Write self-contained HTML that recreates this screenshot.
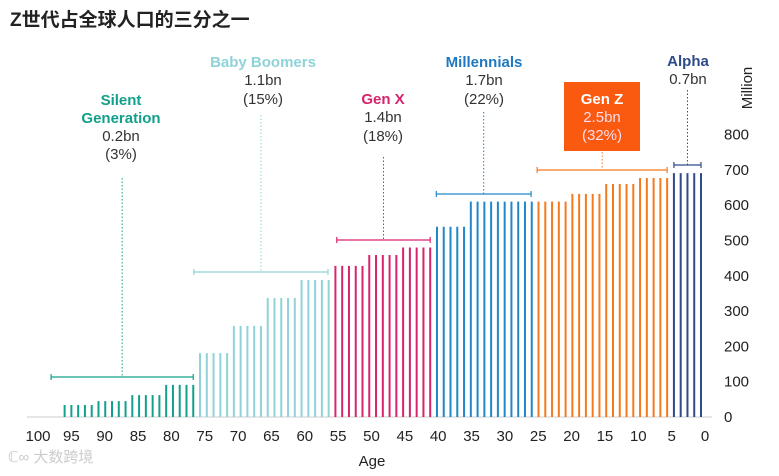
<!DOCTYPE html>
<html><head><meta charset="utf-8"><style>
html,body{margin:0;padding:0;background:#fff;}
body{width:779px;height:471px;overflow:hidden;font-family:"Liberation Sans","Noto Sans CJK SC",sans-serif;}
</style></head><body>
<svg id="chart" width="779" height="471" viewBox="0 0 779 471" xmlns="http://www.w3.org/2000/svg" font-family="Liberation Sans, Noto Sans CJK SC, sans-serif">
<text x="10" y="26" font-size="19" font-weight="bold" fill="#222">Z世代占全球人口的三分之一</text>
<line x1="27" y1="417" x2="712" y2="417" stroke="#ddd" stroke-width="1.5"/>
<g id="bars"></g>
<g id="xticks" font-size="15" fill="#222" text-anchor="middle"></g>
<g id="yticks" font-size="15" fill="#222"></g>
<text x="372" y="466" font-size="15" fill="#222" text-anchor="middle">Age</text>
<text transform="translate(752,88) rotate(-90)" font-size="15" fill="#222" text-anchor="middle">Million</text>
<g id="annots"></g>
<rect x="564" y="82" width="76" height="69" fill="#f95a10"/>
<g text-anchor="middle" font-size="15">
<text x="121" y="105" fill="#13a08a" font-weight="bold">Silent</text>
<text x="121" y="123" fill="#13a08a" font-weight="bold">Generation</text>
<text x="121" y="141" fill="#333">0.2bn</text>
<text x="121" y="159" fill="#333">(3%)</text>
<text x="263" y="67" fill="#8fd3d8" font-weight="bold">Baby Boomers</text>
<text x="263" y="85" fill="#333">1.1bn</text>
<text x="263" y="104" fill="#333">(15%)</text>
<text x="383" y="104" fill="#d6246e" font-weight="bold">Gen X</text>
<text x="383" y="122" fill="#333">1.4bn</text>
<text x="383" y="141" fill="#333">(18%)</text>
<text x="484" y="67" fill="#1f78c1" font-weight="bold">Millennials</text>
<text x="484" y="85" fill="#333">1.7bn</text>
<text x="484" y="104" fill="#333">(22%)</text>
<text x="602" y="104" fill="#fff" font-weight="bold">Gen Z</text>
<text x="602" y="122" fill="#fde">2.5bn</text>
<text x="602" y="140" fill="#fde">(32%)</text>
<text x="688" y="66" fill="#2e4a8a" font-weight="bold">Alpha</text>
<text x="688" y="84" fill="#333">0.7bn</text>
</g>
<text x="8" y="462" font-size="15" fill="#ccc">ℂ∞ 大数跨境</text>
</svg>
<script>
// one value per 5-year age group, ages 0-4 first
const groupStarts = [0,5,10,15,20,25,30,35,40,45,50,55,60,65,70,75,80,85,90];
const groupValues = [691,677,660,632,610,610,610,539,480,459,428,388,337,258,181,91,62,45,34];
const groupGens = ['alpha','genz','genz','genz','genz','mill','mill','mill','genx','genx','genx','boom','boom','boom','boom','silent','silent','silent','silent'];
const xTicks = [100,95,90,85,80,75,70,65,60,55,50,45,40,35,30,25,20,15,10,5,0];
const yTicks = [0,100,200,300,400,500,600,700,800];
const genColors = {alpha:'#2e4a8a',genz:'#f47a20',mill:'#2187c8',genx:'#d6246e',boom:'#8fd3d8',silent:'#13a08a'};
const gens = ['silent','boom','genx','mill','genz','alpha'];
const genBracketFrom = [96,74.9,53.8,39.1,24.2,4];
const genBracketTo = [75,55.1,40,25.1,5,0];
const genBracketY = [377,272,240,194,170,165];
const genLineTop = [178,115,157,112,152,90];

const NS='http://www.w3.org/2000/svg';
const xBar = a => 701 - a*6.77;
const xTick = v => 38 + (100-v)*6.67;
const y = v => 417 - v*0.353;
function mk(tag, attrs){const e=document.createElementNS(NS,tag);for(const k in attrs)e.setAttribute(k,attrs[k]);return e;}
const bars=document.getElementById('bars');
groupStarts.forEach((s,i)=>{
  for(let k=0;k<5;k++){
    const a=s+k;
    const l=mk('line',{x1:xBar(a),x2:xBar(a),y1:y(0),y2:y(groupValues[i]),stroke:genColors[groupGens[i]],'stroke-width':2});
    
    
    bars.appendChild(l);
  }
});
const xt=document.getElementById('xticks');
xTicks.forEach(v=>{
  const t=mk('text',{x:xTick(v),y:441});t.textContent=v;
  
  
  xt.appendChild(t);
});
const yt=document.getElementById('yticks');
yTicks.forEach(v=>{
  const t=mk('text',{x:724,y:y(v)+5});t.textContent=v;
  
  
  yt.appendChild(t);
});
const an=document.getElementById('annots');
gens.forEach((g,i)=>{
  const x1=xBar(genBracketFrom[i]), x2=xBar(genBracketTo[i]), yb=genBracketY[i], c=genColors[g];
  const grp=mk('g',{stroke:c,'stroke-width':1.2});
  
  
  grp.appendChild(mk('line',{x1:x1,x2:x2,y1:yb,y2:yb}));
  grp.appendChild(mk('line',{x1:x1,x2:x1,y1:yb-3,y2:yb+3}));
  grp.appendChild(mk('line',{x1:x2,x2:x2,y1:yb-3,y2:yb+3}));
  const mx=(x1+x2)/2;
  grp.appendChild(mk('line',{x1:mx,x2:mx,y1:genLineTop[i],y2:yb,'stroke-dasharray':'1.5 2','stroke-width':1}));
  an.appendChild(grp);
});
</script>
</body></html>
